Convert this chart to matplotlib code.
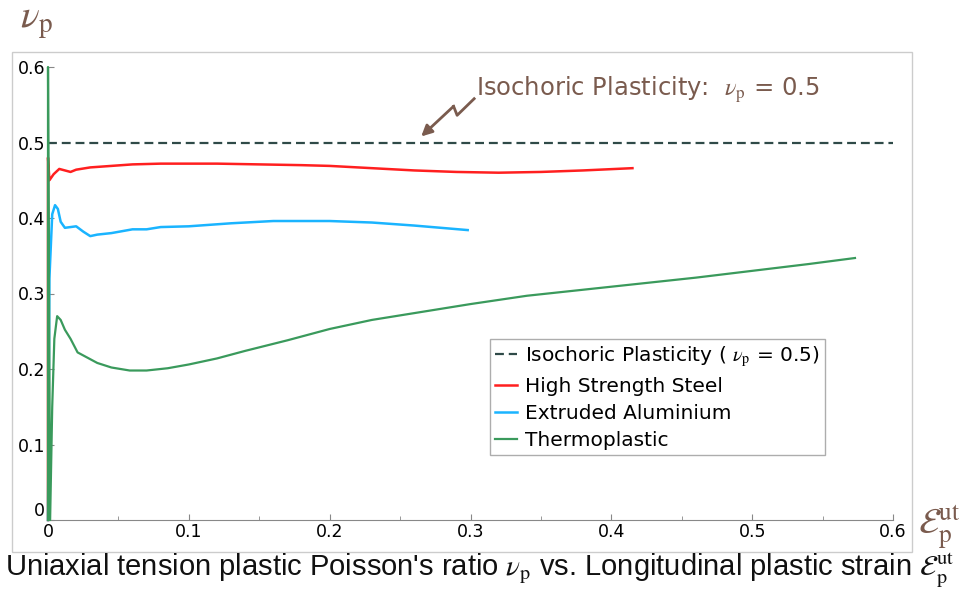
import matplotlib
matplotlib.use("Agg")
import matplotlib.pyplot as plt
from matplotlib.patches import Rectangle

plt.rcParams['mathtext.fontset'] = 'stix'

# values
steel_x = [0, 0, 0.001, 0.004, 0.008, 0.012, 0.016, 0.02, 0.03, 0.045, 0.06, 0.08, 0.1, 0.12,
           0.15, 0.18, 0.2, 0.23, 0.26, 0.29, 0.32, 0.35, 0.38, 0.415]
steel_y = [0, 0.48, 0.450, 0.458, 0.465, 0.463, 0.461, 0.464, 0.467, 0.469, 0.471, 0.472, 0.472,
           0.472, 0.471, 0.470, 0.469, 0.466, 0.463, 0.461, 0.460, 0.461, 0.463, 0.466]

alu_x = [0, 0.001, 0.003, 0.005, 0.007, 0.009, 0.012, 0.016, 0.02, 0.025, 0.03, 0.035, 0.045,
         0.06, 0.07, 0.08, 0.1, 0.13, 0.16, 0.2, 0.23, 0.26, 0.298]
alu_y = [0, 0.32, 0.405, 0.417, 0.412, 0.395, 0.387, 0.388, 0.389, 0.382, 0.376, 0.378, 0.380,
         0.385, 0.385, 0.388, 0.389, 0.393, 0.396, 0.396, 0.394, 0.390, 0.384]

thermo_x = [0, 0, 0.0015, 0.003, 0.0045, 0.0065, 0.009, 0.012, 0.016, 0.021, 0.028, 0.035,
            0.045, 0.058, 0.07, 0.085, 0.1, 0.12, 0.14, 0.17, 0.2, 0.23, 0.26, 0.3, 0.34,
            0.38, 0.42, 0.46, 0.5, 0.54, 0.573]
thermo_y = [0, 0.6, 0.0, 0.15, 0.24, 0.270, 0.265, 0.252, 0.240, 0.222, 0.215, 0.208,
            0.202, 0.198, 0.198, 0.201, 0.206, 0.214, 0.224, 0.238, 0.253, 0.265, 0.274, 0.286, 0.297,
            0.305, 0.313, 0.321, 0.330, 0.339, 0.347]

iso_value = 0.5

# zigzag arrow path for the annotation
zig_x = [0.3026, 0.2905, 0.2880]
zig_y = [0.558, 0.536, 0.548]
arrow_tip = (0.265, 0.508)

brown = '#7a5b4e'

fig = plt.figure(figsize=(9.79, 5.92), dpi=100)
ax = fig.add_axes([48/979, 1-520/592, (893-48)/979, (520-67)/592])

ax.axhline(iso_value, color='#2f4a48', lw=1.6, ls=(0, (4, 2.2)), zorder=3,
           label=r'Isochoric Plasticity ( $\nu_{\mathrm{p}}$ = 0.5)')
ax.plot(steel_x, steel_y, color='#ff1f1f', lw=1.8, zorder=3, clip_on=False,
        label='High Strength Steel')
ax.plot(alu_x, alu_y, color='#1ab4ff', lw=1.8, zorder=3, clip_on=False,
        label='Extruded Aluminium')
ax.plot(thermo_x, thermo_y, color='#3a9a5c', lw=1.6, zorder=3, clip_on=False,
        label='Thermoplastic')

ax.plot(zig_x, zig_y, color=brown, lw=2)
ax.annotate('', xy=arrow_tip, xytext=(zig_x[-1], zig_y[-1]),
            arrowprops=dict(arrowstyle='-|>', color=brown, lw=2, mutation_scale=16,
                            shrinkA=0, shrinkB=0))
ax.text(0.304, 0.57, r'Isochoric Plasticity:  $\nu_{\mathrm{p}}$ = 0.5', color=brown,
        fontsize=17.5, va='center', ha='left')

ax.set_xlim(0, 0.6)
ax.set_ylim(0, 0.6)
ax.set_xticks([0, 0.1, 0.2, 0.3, 0.4, 0.5, 0.6])
ax.set_xticklabels(['0', '0.1', '0.2', '0.3', '0.4', '0.5', '0.6'])
ax.set_xticks([0.05, 0.15, 0.25, 0.35, 0.45, 0.55], minor=True)
ax.set_yticks([0, 0.1, 0.2, 0.3, 0.4, 0.5, 0.6])
ax.set_yticklabels(['0', '0.1', '0.2', '0.3', '0.4', '0.5', '0.6'])
ax.tick_params(direction='in', length=4, color='#888888', labelsize=12.5, pad=2)
ax.tick_params(which='minor', direction='in', length=3, color='#888888')
for s in ['top', 'right']:
    ax.spines[s].set_visible(False)
for s in ['left', 'bottom']:
    ax.spines[s].set_color('#888888')
# lift the y "0" a touch so it sits beside the x "0" as in the original
ax.get_yticklabels()[0].set_va('bottom')

leg = ax.legend(loc='lower left', bbox_to_anchor=(0.523, 0.143), fontsize=14.5, frameon=True,
                fancybox=False, edgecolor='#999999', handlelength=1.1, handletextpad=0.4,
                borderpad=0.25, labelspacing=0.4, borderaxespad=0)
leg.get_frame().set_linewidth(1)

fig.text(20/979, 1-22/592, r'$\nu_{\mathrm{p}}$', fontsize=28, color=brown, va='center', ha='left')
fig.text(918/979, 1-528/592, r'$\mathcal{E}_{\mathrm{p}}^{\mathrm{ut}}$', fontsize=26, color=brown,
         va='center', ha='left')

fig.patches.append(Rectangle((12/979, 1-552/592), 900/979, 500/592, transform=fig.transFigure,
                             fill=False, edgecolor='#cccccc', lw=1))

fig.text(5/979, 1-570/592,
         r"Uniaxial tension plastic Poisson's ratio $\nu_{\mathrm{p}}$ vs. Longitudinal plastic strain $\mathcal{E}_{\mathrm{p}}^{\mathrm{ut}}$",
         fontsize=21, family='Liberation Sans', va='center', ha='left', color='#111111')

fig.savefig('out.png', dpi=100)
